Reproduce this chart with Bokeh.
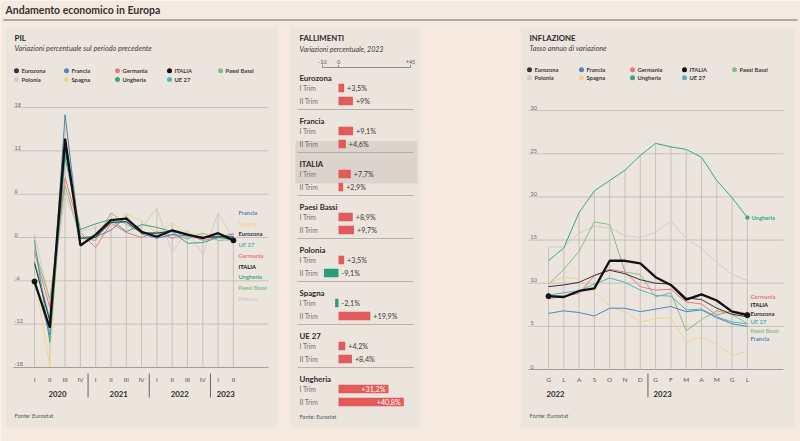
from bokeh.plotting import figure
from bokeh.models import Range1d
from bokeh.core.properties import value
from bokeh.embed import file_html
from bokeh.resources import INLINE

W, H = 800, 441
FONT = "Lato"

# ---------------- DATA ----------------
countries = ["Eurozona", "Francia", "Germania", "ITALIA", "Paesi Bassi",
             "Polonia", "Spagna", "Ungheria", "UE 27"]

# PIL: variazione % congiunturale, I trim 2020 - II trim 2023
pil_quarters = ["I", "II", "III", "IV", "I", "II", "III", "IV",
                "I", "II", "III", "IV", "I", "II"]
pil_years = ["2020", "2021", "2022", "2023"]
pil_ticks = [-18, -12, -6, 0, 6, 12, 18]
pil_italia = [-6.1, -12.5, 13.7, -1.1, 0.4, 2.4, 2.6, 0.8, 0.1, 1.0, 0.4, -0.1, 0.6, -0.4]
pil_eurozona = [-3.6, -11.6, 12.4, -0.1, 0.0, 2.1, 2.2, 0.6, 0.6, 0.9, 0.4, 0.0, 0.1, 0.1]
pil_ue27 = [-3.3, -11.2, 11.7, 0.0, 0.2, 2.1, 2.1, 0.6, 0.7, 0.8, 0.4, -0.1, 0.2, 0.0]
pil_francia = [-5.8, -13.5, 17.0, -1.0, 0.1, 1.0, 2.9, 0.5, -0.1, 0.4, 0.2, 0.1, 0.0, 0.5]
pil_germania = [-2.0, -9.7, 8.3, 0.7, -1.4, 2.0, 0.7, 0.0, 0.8, -0.1, 0.4, -0.4, 0.0, 0.0]
pil_paesi_bassi = [-1.6, -8.5, 7.2, -0.1, -0.4, 3.4, 1.8, 0.7, 0.5, 0.4, -0.2, 0.6, -0.4, -0.3]
pil_polonia = [0.5, -8.9, 5.8, 0.8, 1.4, 2.0, 2.1, 1.4, 4.0, -2.1, 1.0, -2.3, 3.4, -0.2]
pil_spagna = [-5.3, -17.8, 16.5, 0.2, -0.4, 1.4, 3.3, 2.3, 0.6, 2.0, 0.5, 0.5, 0.5, 0.5]
pil_ungheria = [-0.4, -14.5, 11.1, 1.1, 1.9, 2.5, 0.8, 1.8, 1.4, 0.8, -0.8, -0.7, 0.0, -0.3]

# FALLIMENTI: variazioni percentuali 2023
fal_paesi = ["Eurozona", "Francia", "ITALIA", "Paesi Bassi", "Polonia",
             "Spagna", "UE 27", "Ungheria"]
fal_trim_labels = ["I Trim", "II Trim"]
fal_trim1 = [3.5, 9.1, 7.7, 8.9, 3.5, -2.1, 4.2, 31.2]
fal_trim2 = [9.0, 4.6, 2.9, 9.7, -9.1, 19.9, 8.4, 40.8]
fal_ticks = [-10, 0, 45]

# INFLAZIONE: tasso annuo, giugno 2022 - luglio 2023
inf_months = ["G", "L", "A", "S", "O", "N", "D", "G", "F", "M", "A", "M", "G", "L"]
inf_years = ["2022", "2023"]
inf_ticks = [0, 5, 10, 15, 20, 25, 30]
inf_italia = [8.5, 8.4, 9.1, 9.4, 12.6, 12.6, 12.3, 10.7, 9.8, 8.1, 8.7, 8.0, 6.7, 6.3]
inf_eurozona = [9.6, 9.8, 10.1, 10.9, 11.5, 11.1, 10.4, 10.0, 9.9, 8.3, 8.1, 7.1, 6.4, 6.1]
inf_ue27 = [8.6, 8.9, 9.1, 9.9, 10.6, 10.1, 9.2, 8.6, 8.5, 6.9, 7.0, 6.1, 5.5, 5.3]
inf_germania = [8.2, 8.5, 8.8, 10.9, 11.6, 11.3, 9.6, 9.2, 9.3, 7.8, 7.6, 6.3, 6.8, 6.5]
inf_francia = [6.5, 6.8, 6.6, 6.2, 7.1, 7.1, 6.7, 7.0, 7.3, 6.7, 6.9, 6.0, 5.3, 5.0]
inf_paesi_bassi = [9.9, 11.6, 13.7, 17.1, 16.8, 11.3, 11.0, 8.4, 8.9, 4.5, 5.8, 6.8, 6.4, 5.3]
inf_spagna = [10.0, 10.7, 10.5, 9.0, 7.3, 6.7, 5.5, 5.9, 6.0, 3.1, 3.8, 2.9, 1.6, 2.1]
inf_polonia = [14.2, 14.2, 15.8, 16.6, 16.4, 15.5, 15.3, 15.9, 17.2, 15.2, 14.0, 12.4, 11.0, 10.3]
inf_ungheria = [12.6, 14.1, 18.2, 20.7, 21.9, 23.1, 24.8, 26.2, 25.8, 25.5, 24.6, 21.9, 19.9, 17.6]

# ---------------- STYLE ----------------
BG = "#f6eae0"
PANEL = "#ece5de"
GRID = "#bfb8b1"
TXT = "#2b2b2b"
COL = {
    "Eurozona": "#34323a", "Francia": "#4f86c0", "Germania": "#e77a80",
    "ITALIA": "#111111", "Paesi Bassi": "#8dbb85", "Polonia": "#d3ccc6",
    "Spagna": "#f0d592", "Ungheria": "#3aa585", "UE 27": "#52b5bd",
}
RED = "#e35a5a"
GREEN = "#2a9c7e"

p = figure(width=W, height=H, x_range=Range1d(0, W), y_range=Range1d(H, 0),
           output_backend="svg", toolbar_location=None, min_border=0,
           x_axis_location=None, y_axis_location=None)
p.outline_line_color = None
p.grid.visible = False
p.background_fill_color = BG
p.border_fill_color = BG


def xr(name, p0, scale):
    p.extra_x_ranges[name] = Range1d(-p0 / scale, (W - p0) / scale)


def yr(name, p0, scale):
    start = -(H - p0) / scale
    p.extra_y_ranges[name] = Range1d(start, start + H / scale)


def txt(x, y, t, size, color=TXT, style="normal", align="left", baseline="middle",
        xn="default", yn="default", **kw):
    p.text(x=x, y=y, text=t, text_font=value(FONT), text_font_size=value(f"{size}px"),
           text_font_style=value(style), text_color=color, text_align=align,
           text_baseline=baseline, x_range_name=xn, y_range_name=yn, **kw)


# page header and panels
txt([5], [9], ["Andamento economico in Europa"], 10.5, "#333", "bold")
p.segment(x0=[3], x1=[797], y0=[19.5], y1=[19.5], line_color="#6a6560", line_width=1)
p.quad(left=[5, 290, 520], right=[277, 420, 795], top=[27, 27, 27], bottom=[427, 427, 427],
       fill_color=PANEL, line_color=None)


def legend(x_cols, y_rows):
    order = [["Eurozona", "Francia", "Germania", "ITALIA", "Paesi Bassi"],
             ["Polonia", "Spagna", "Ungheria", "UE 27"]]
    for r, row in enumerate(order):
        xs = x_cols[:len(row)]
        p.scatter(x=xs, y=[y_rows[r]] * len(row), size=5,
                  color=[COL[c] for c in row], line_color=None)
        txt([x + 5 for x in xs], [y_rows[r]] * len(row), row, 5.8, "#3a3a3a", "bold")


def series_lines(xn, yn, data, main):
    for name, vals in data:
        if name == main:
            continue
        p.line(x=list(range(len(vals))), y=vals, line_color=COL[name], line_width=1.0,
               x_range_name=xn, y_range_name=yn)
    vals = dict(data)[main]
    n = len(vals)
    p.line(x=list(range(n)), y=vals, line_color=COL[main], line_width=2.3,
           x_range_name=xn, y_range_name=yn)
    p.scatter(x=[0, n - 1], y=[vals[0], vals[-1]], size=5, color=COL[main],
              x_range_name=xn, y_range_name=yn)


# ---------------- PIL ----------------
xr("pil_x", 34, 15.3)
yr("pil_y", 237, 7.22)
txt([14], [37], ["PIL"], 8, TXT, "bold")
txt([14], [48], ["Variazioni percentuale sul periodo precedente"], 7.3, "#3d3d3d", "italic")
legend([16, 66, 117, 169, 220], [70.3, 79])

p.segment(x0=[13] * len(pil_ticks), x1=[268] * len(pil_ticks), y0=pil_ticks, y1=pil_ticks,
          line_color=[("#8e8984" if t == pil_ticks[0] else GRID) for t in pil_ticks],
          line_width=0.8, y_range_name="pil_y")
txt([14] * len(pil_ticks), pil_ticks, [str(t) for t in pil_ticks], 5.5, "#6a6560",
    baseline="bottom", yn="pil_y", y_offset=-1)

pil_data = [("Polonia", pil_polonia), ("Spagna", pil_spagna), ("Paesi Bassi", pil_paesi_bassi),
            ("Germania", pil_germania), ("Ungheria", pil_ungheria), ("Francia", pil_francia),
            ("UE 27", pil_ue27), ("Eurozona", pil_eurozona), ("ITALIA", pil_italia)]
nq = len(pil_quarters)
pil_max = [max(v[i] for _, v in pil_data) for i in range(nq)]
p.segment(x0=list(range(nq)), x1=list(range(nq)), y0=[pil_ticks[0]] * nq, y1=pil_max,
          line_color=GRID, line_width=0.8, x_range_name="pil_x", y_range_name="pil_y")
series_lines("pil_x", "pil_y", pil_data, "ITALIA")

txt(list(range(nq)), [379] * nq, pil_quarters, 6.2, "#555", align="center", xn="pil_x")
p.segment(x0=[3.5, 7.5, 11.5], x1=[3.5, 7.5, 11.5], y0=[373] * 3, y1=[397] * 3,
          line_color="#444", line_width=0.8, x_range_name="pil_x")
txt([1.5, 5.5, 9.5, 12.5], [393] * 4, pil_years, 7.8, TXT, "bold", align="center", xn="pil_x")

pil_lab = ["Francia", "Spagna", "Eurozona", "UE 27", "Germania", "ITALIA",
           "Ungheria", "Paesi Bassi", "Polonia"]
txt([238] * len(pil_lab), [212 + 10.7 * i for i in range(len(pil_lab))], pil_lab, 5.8,
    [COL[c] for c in pil_lab], "bold")
txt([14], [415], ["Fonte: Eurostat"], 5.8, "#555")

# ---------------- FALLIMENTI ----------------
xr("fal_x", 338, 1.6)
txt([299], [37], ["FALLIMENTI"], 7.8, TXT, "bold")
txt([299], [48], ["Variazioni percentuale, 2023"], 7, "#3d3d3d", "italic")
p.segment(x0=[fal_ticks[0]], x1=[fal_ticks[-1]], y0=[67], y1=[67], line_color="#777",
          line_width=0.8, x_range_name="fal_x")
p.segment(x0=fal_ticks, x1=fal_ticks, y0=[64.5] * 3, y1=[67] * 3, line_color="#777",
          line_width=0.8, x_range_name="fal_x")
txt(fal_ticks, [61] * 3, [("+" if t > 0 else "") + str(t) for t in fal_ticks], 5.5, "#555",
    align="center", xn="fal_x")

G0, GP = 77, 43
ng = len(fal_paesi)
it = fal_paesi.index("ITALIA")
p.quad(left=[295], right=[417], top=[G0 - 23 + GP * it + 0.5], bottom=[G0 + 20 + GP * it],
       fill_color="#dcd4cc", line_color=None)
p.segment(x0=[297] * (ng - 1), x1=[413] * (ng - 1), y0=[G0 + 32 + GP * k for k in range(ng - 1)],
          y1=[G0 + 32 + GP * k for k in range(ng - 1)], line_color="#aaa39c", line_width=0.8)
txt([299] * ng, [G0 + GP * k for k in range(ng)], fal_paesi, 7.8, TXT, "bold")
rows_y = []
vals = []
for k in range(ng):
    rows_y += [G0 + 10.5 + GP * k, G0 + 23.5 + GP * k]
    vals += [fal_trim1[k], fal_trim2[k]]
txt([299] * len(rows_y), rows_y, fal_trim_labels * ng, 6.8, "#77716c")
p.hbar(y=rows_y, left=0, right=vals, height=8.5, x_range_name="fal_x",
       fill_color=[RED if v >= 0 else GREEN for v in vals], line_color=None)


def fmt(v):
    s = f"{v:+.1f}".replace(".", ",")
    if s.endswith(",0"):
        s = s[:-2]
    return s + "%"


big = [v > 25 for v in vals]
out_x = [max(v, 0) for v, b in zip(vals, big) if not b]
out_y = [y for y, b in zip(rows_y, big) if not b]
out_t = [fmt(v) for v, b in zip(vals, big) if not b]
txt(out_x, out_y, out_t, 7.2, "#3a3a3a", xn="fal_x", x_offset=3)
txt([v for v, b in zip(vals, big) if b], [y for y, b in zip(rows_y, big) if b],
    [fmt(v) for v, b in zip(vals, big) if b], 7.2, "white", align="right", xn="fal_x",
    x_offset=-3)
txt([299], [416], ["Fonte: Eurostat"], 5.5, "#555")

# ---------------- INFLAZIONE ----------------
xr("inf_x", 548, 15.3)
yr("inf_y", 369, 8.63)
txt([529], [37], ["INFLAZIONE"], 7.8, TXT, "bold")
txt([529], [48], ["Tasso annuo di variazione"], 7.3, "#3d3d3d", "italic")
legend([529, 581, 632, 684, 734], [69.3, 77.3])

p.segment(x0=[528] * len(inf_ticks), x1=[783] * len(inf_ticks), y0=inf_ticks, y1=inf_ticks,
          line_color=[("#8e8984" if t == 0 else GRID) for t in inf_ticks],
          line_width=0.8, y_range_name="inf_y")
txt([530] * len(inf_ticks), inf_ticks, [str(t) for t in inf_ticks], 5.5, "#6a6560",
    baseline="bottom", yn="inf_y", y_offset=-1)

inf_data = [("Polonia", inf_polonia), ("Spagna", inf_spagna), ("Paesi Bassi", inf_paesi_bassi),
            ("Francia", inf_francia), ("Germania", inf_germania), ("UE 27", inf_ue27),
            ("Ungheria", inf_ungheria), ("Eurozona", inf_eurozona), ("ITALIA", inf_italia)]
nm = len(inf_months)
inf_max = [max(v[i] for _, v in inf_data) for i in range(nm)]
p.segment(x0=list(range(nm)), x1=list(range(nm)), y0=[0] * nm, y1=inf_max,
          line_color=GRID, line_width=0.8, x_range_name="inf_x", y_range_name="inf_y")
series_lines("inf_x", "inf_y", inf_data, "ITALIA")
p.scatter(x=[nm - 1], y=[inf_ungheria[-1]], size=3.5, color=COL["Ungheria"],
          x_range_name="inf_x", y_range_name="inf_y")

txt(list(range(nm)), [379] * nm, inf_months, 6.5, "#555", align="center", xn="inf_x")
p.segment(x0=[6.5], x1=[6.5], y0=[373], y1=[397], line_color="#444", line_width=0.8,
          x_range_name="inf_x")
txt([0, 7], [393, 393], inf_years, 7.8, TXT, "bold", xn="inf_x", x_offset=-2)

txt([nm - 1], [inf_ungheria[-1]], ["Ungheria"], 5.8, COL["Ungheria"], "bold",
    xn="inf_x", yn="inf_y", x_offset=4)
inf_lab = ["Germania", "ITALIA", "Eurozona", "UE 27", "Paesi Bassi", "Francia"]
txt([750] * len(inf_lab), [296 + 8.4 * i for i in range(len(inf_lab))], inf_lab, 5.8,
    [COL[c] for c in inf_lab], "bold")
txt([529], [415], ["Fonte: Eurostat"], 5.8, "#555")

open("out.html", "w").write(file_html(p, INLINE))
